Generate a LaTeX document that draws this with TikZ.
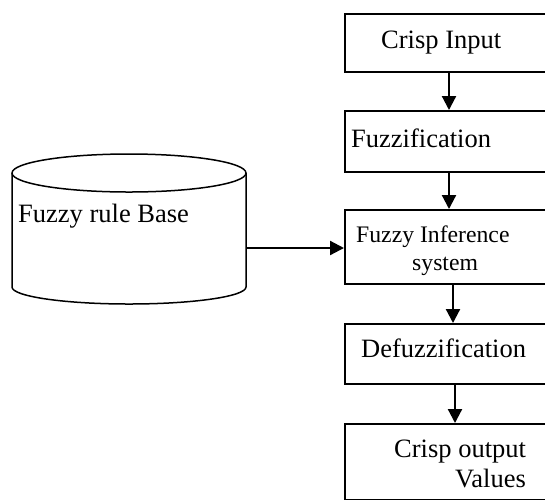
\documentclass[tikz,border=0pt]{standalone}
\usepackage{fontspec}
\setmainfont{Liberation Serif}
\usetikzlibrary{arrows.meta}
\begin{document}
\begin{tikzpicture}[x=1pt,y=-1pt,
  boxst/.style={draw,line width=1.5pt,minimum width=260pt,minimum height=#1,anchor=north west,inner sep=0pt},
  lbl/.style={anchor=base west,inner sep=0pt,font=\fontsize{26.5}{30}\selectfont},
  lblsm/.style={anchor=base west,inner sep=0pt,font=\fontsize{23.7}{28}\selectfont},
  arr/.style={line width=2.2pt,-{Triangle[length=14pt,width=14pt]}}]
\useasboundingbox (0,0) rectangle (545,499);
\clip (0,0) rectangle (545,499);
\node[boxst=58pt] (b1) at (344,13) {};
\node[boxst=61pt] (b2) at (344,110) {};
\node[boxst=74pt] (b3) at (344,209) {};
\node[boxst=60pt] (b4) at (344,323) {};
\node[boxst=76pt] (b5) at (344,423) {};
\node[lbl] (t1) at (381,48) {Crisp Input};
\node[lbl] (t2) at (351,147) {Fuzzification};
\node[lblsm] (t3a) at (356,242) {Fuzzy Inference};
\node[lblsm] (t3b) at (412,270) {system};
\node[lbl] (t4) at (361,357) {Defuzzification};
\node[lbl] (t5a) at (394,457) {Crisp output};
\node[lbl] (t5b) at (455,487) {Values};
% cylinder
\draw[line width=1.5pt] (12,173) arc[start angle=180,end angle=540,x radius=117,y radius=19];
\draw[line width=1.5pt] (12,173) -- (12,287) arc[start angle=180,end angle=0,x radius=117,y radius=17] -- (246,173);
\node[lbl] (t6) at (18,222) {Fuzzy rule Base};
\coordinate (db) at (246,248);
\draw[arr] (b1.south -| 449,0) -- (b2.north -| 449,0);
\draw[arr] (b2.south -| 449,0) -- (b3.north -| 449,0);
\draw[arr] (b3.south -| 453,0) -- (b4.north -| 453,0);
\draw[arr] (b4.south -| 455,0) -- (b5.north -| 455,0);
\draw[arr] (db) -- (db -| b3.west);
\end{tikzpicture}
\end{document}
